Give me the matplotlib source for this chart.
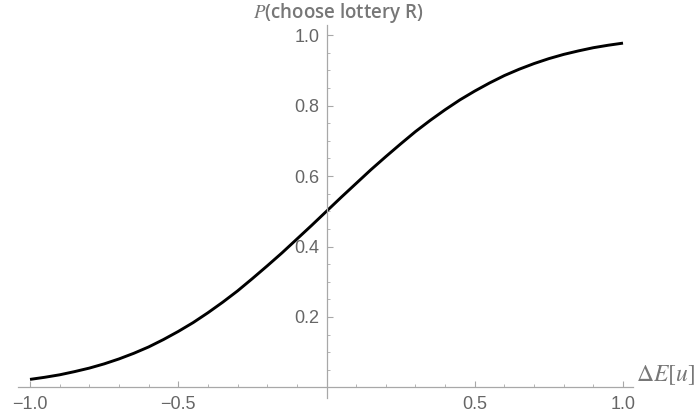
import numpy as np
import matplotlib
matplotlib.use('Agg')
import matplotlib.pyplot as plt
from matplotlib.ticker import MultipleLocator, FixedLocator

# values
delta_eu = [-1.0, -0.95, -0.9, -0.85, -0.8, -0.75, -0.7, -0.65, -0.6, -0.55,
            -0.5, -0.45, -0.4, -0.35, -0.3, -0.25, -0.2, -0.15, -0.1, -0.05,
            0.0, 0.05, 0.1, 0.15, 0.2, 0.25, 0.3, 0.35, 0.4, 0.45,
            0.5, 0.55, 0.6, 0.65, 0.7, 0.75, 0.8, 0.85, 0.9, 0.95, 1.0]
p_choose_r = [0.023, 0.029, 0.036, 0.045, 0.055, 0.067, 0.081, 0.097, 0.115, 0.136,
              0.159, 0.184, 0.212, 0.242, 0.274, 0.309, 0.345, 0.382, 0.421, 0.460,
              0.500, 0.540, 0.579, 0.618, 0.655, 0.691, 0.726, 0.758, 0.788, 0.816,
              0.841, 0.864, 0.885, 0.903, 0.919, 0.933, 0.945, 0.955, 0.964, 0.971, 0.977]

x_ticks = [-1.0, -0.5, 0.5, 1.0]
x_labels = ['\u22121.0', '\u22120.5', '0.5', '1.0']
y_ticks = [0.2, 0.4, 0.6, 0.8, 1.0]
y_labels = ['0.2', '0.4', '0.6', '0.8', '1.0']

plt.rcParams['mathtext.fontset'] = 'stix'

fig = plt.figure(figsize=(7, 4.19), dpi=100)
ax = fig.add_axes([18/700, 21/419, 615/700, 373/419])

ax.plot(delta_eu, p_choose_r, color='black', lw=2.1, solid_capstyle='butt')

ax.set_xlim(-1.0405, 1.0337)
ax.set_ylim(-0.0298, 1.0284)

axis_col = '#a8a8a8'
for s in ['top', 'right']:
	ax.spines[s].set_visible(False)
ax.spines['left'].set_position(('data', 0))
ax.spines['bottom'].set_position(('data', 0))
for s in ['left', 'bottom']:
	ax.spines[s].set_color(axis_col)
	ax.spines[s].set_linewidth(0.9)

ax.xaxis.set_major_locator(FixedLocator(x_ticks))
ax.set_xticklabels(x_labels)
ax.yaxis.set_major_locator(FixedLocator(y_ticks))
ax.set_yticklabels(y_labels)
ax.xaxis.set_minor_locator(MultipleLocator(0.1))
ax.yaxis.set_minor_locator(MultipleLocator(0.05))

ax.tick_params(which='major', direction='in', length=4, width=0.8, color=axis_col,
			   labelcolor='#666666', labelsize=13)
ax.tick_params(which='minor', direction='in', length=2.5, width=0.6, color=axis_col)
ax.tick_params(axis='x', which='major', pad=6)
ax.tick_params(axis='y', which='major', pad=5)
for lab in ax.get_xticklabels() + ax.get_yticklabels():
	lab.set_family('Liberation Sans')

fig.text(338/700, 1 - 13/419, r'$P$(choose lottery R)', ha='center', va='center',
		 fontsize=13.5, color='#777777', family='Open Sans', fontweight='semibold')
fig.text(636/700, 1 - 375/419, r'$\Delta E[u]$', ha='left', va='center',
		 fontsize=17, color='#777777')

plt.savefig('out.png', dpi=100)
